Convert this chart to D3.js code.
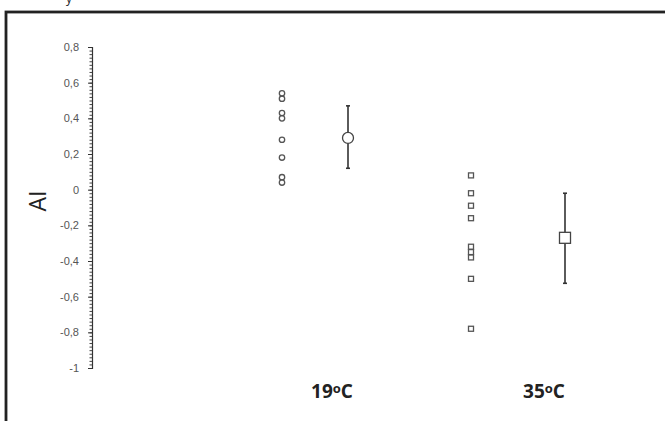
<!DOCTYPE html>
<html>
<head>
<meta charset="utf-8">
<script src="https://cdn.jsdelivr.net/npm/d3@7"></script>
<style>
  body { margin: 0; background: #fff; }
  svg { display: block; font-family: "Open Sans", "DejaVu Sans", sans-serif; }
</style>
</head>
<body>
<div id="chart"></div>
<script>
const categories = ['19ºC', '35ºC'];
const individual = [
  [0.54, 0.51, 0.43, 0.40, 0.28, 0.18, 0.07, 0.04],
  [0.08, -0.02, -0.09, -0.16, -0.32, -0.35, -0.38, -0.50, -0.78]
];
const means = [0.29, -0.27];
const upper = [0.47, -0.02];
const lower = [0.12, -0.525];
const yTicks = [0.8, 0.6, 0.4, 0.2, 0, -0.2, -0.4, -0.6, -0.8, -1];

const W = 665, H = 421;
const svg = d3.select('#chart').append('svg')
  .attr('width', W).attr('height', H);

// frame
svg.append('rect')
  .attr('x', 6).attr('y', 12)
  .attr('width', 700).attr('height', 450)
  .attr('fill', 'none').attr('stroke', '#222').attr('stroke-width', 2.8);

// cut-off text above frame
svg.append('text').attr('x', 66).attr('y', 3)
  .attr('font-size', 12).attr('fill', '#222').text('y');

const y = d3.scaleLinear().domain([-1, 0.8]).range([368, 47]);
const xDots = d3.scalePoint().domain(categories).range([282, 471]);
const xMean = d3.scalePoint().domain(categories).range([348, 565]);
const xLab = d3.scalePoint().domain(categories).range([332, 544]);

// y axis with minor ticks
const axisX = 92;
const minor = d3.range(-1, 0.8001, 0.02);
svg.append('g')
  .attr('transform', `translate(${axisX},0)`)
  .call(d3.axisLeft(y).tickValues(minor).tickSize(2.5).tickFormat(''))
  .call(g => g.select('.domain').remove())
  .call(g => g.selectAll('line').attr('stroke', '#444'));
const ax = svg.append('g')
  .attr('transform', `translate(${axisX},0)`)
  .call(d3.axisLeft(y).tickValues(yTicks).tickSizeInner(4).tickSizeOuter(4)
    .tickFormat(d => String(d).replace('.', ',')));
ax.select('.domain').attr('stroke', '#333').attr('stroke-width', 1.2);
ax.selectAll('line').attr('stroke', '#333');
ax.selectAll('text').attr('fill', '#555').attr('font-size', 11).attr('x', -13);

// axis title
svg.append('text')
  .attr('transform', 'translate(46,201) rotate(-90)')
  .attr('text-anchor', 'middle')
  .attr('font-size', 23).attr('fill', '#222').text('AI');

// individual points
categories.forEach((c, i) => {
  const g = svg.append('g');
  if (i === 0) {
    g.selectAll('circle').data(individual[i]).enter().append('circle')
      .attr('cx', xDots(c)).attr('cy', d => y(d)).attr('r', 2.7)
      .attr('fill', 'none').attr('stroke', '#555').attr('stroke-width', 1.3);
  } else {
    g.selectAll('rect').data(individual[i]).enter().append('rect')
      .attr('x', xDots(c) - 2.5).attr('y', d => y(d) - 2.5)
      .attr('width', 5).attr('height', 5)
      .attr('fill', 'none').attr('stroke', '#555').attr('stroke-width', 1.3);
  }
});

// means with error bars
categories.forEach((c, i) => {
  const cx = xMean(c);
  const g = svg.append('g').attr('stroke', '#333').attr('stroke-width', 1.6);
  g.append('line').attr('x1', cx).attr('x2', cx)
    .attr('y1', y(upper[i])).attr('y2', y(lower[i]));
  [upper[i], lower[i]].forEach(v => {
    g.append('line').attr('x1', cx - 2).attr('x2', cx + 2)
      .attr('y1', y(v)).attr('y2', y(v));
  });
  if (i === 0) {
    g.append('circle').attr('cx', cx).attr('cy', y(means[i])).attr('r', 5.5)
      .attr('fill', '#fff').attr('stroke', '#444').attr('stroke-width', 1.3);
  } else {
    g.append('rect').attr('x', cx - 5.5).attr('y', y(means[i]) - 5.5)
      .attr('width', 11).attr('height', 11)
      .attr('fill', '#fff').attr('stroke', '#444').attr('stroke-width', 1.3);
  }
});

// category labels
categories.forEach(c => {
  const t = svg.append('text')
    .attr('x', xLab(c)).attr('y', 398)
    .attr('text-anchor', 'middle')
    .attr('font-size', 19).attr('font-weight', 'bold').attr('fill', '#222');
  t.append('tspan').text(c.slice(0, 2));
  t.append('tspan').attr('font-size', 13).attr('dy', -5).text('o');
  t.append('tspan').attr('dy', 5).text('C');
});
</script>
</body>
</html>
